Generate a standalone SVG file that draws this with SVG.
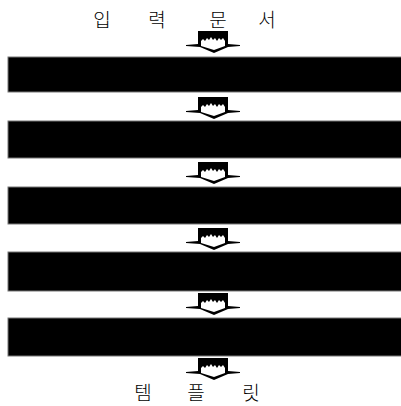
<svg xmlns="http://www.w3.org/2000/svg" width="401" height="406" viewBox="0 0 401 406">
<defs>
<style>
.lbl{font-family:"Noto Sans CJK KR","Noto Sans",sans-serif;font-size:19px;font-weight:300;fill:#000;text-anchor:middle}
.box{fill:#000;stroke:#777;stroke-width:1}
</style>
<g id="arrow">
<path d="M198,0 H228 V13 L240,14 L240,15 L228,16 L214,22 L200,16 L186,15 L186,14 L198,13 Z" fill="#000"/>
<path d="M201,10 L203,8 L205,10 L207,7 L209,9 L211,6 L213,9 L215,7 L217,10 L219,7 L221,9 L223,7 L225,10 L225,15 L214,19 L201,15 Z" fill="#fff"/>
</g>
</defs>
<rect width="401" height="406" fill="#fff"/>
<g id="title"><text class="lbl" x="102 130 157 190 218 245 267" y="27">입 력 문 서</text></g>
<g id="box1"><rect class="box" x="8" y="57" width="400" height="35"/></g>
<g id="box2"><rect class="box" x="8" y="121" width="400" height="37"/></g>
<g id="box3"><rect class="box" x="8" y="187" width="400" height="37"/></g>
<g id="box4"><rect class="box" x="8" y="252" width="400" height="39"/></g>
<g id="box5"><rect class="box" x="8" y="318" width="400" height="38"/></g>
<g id="template"><text class="lbl" x="143 170 196 224 251" y="400">템 플 릿</text></g>
<g id="connectors">
<use href="#arrow" y="31"/>
<use href="#arrow" y="97"/>
<use href="#arrow" y="162"/>
<use href="#arrow" y="228"/>
<use href="#arrow" y="293"/>
<use href="#arrow" y="358"/>
</g>
</svg>
